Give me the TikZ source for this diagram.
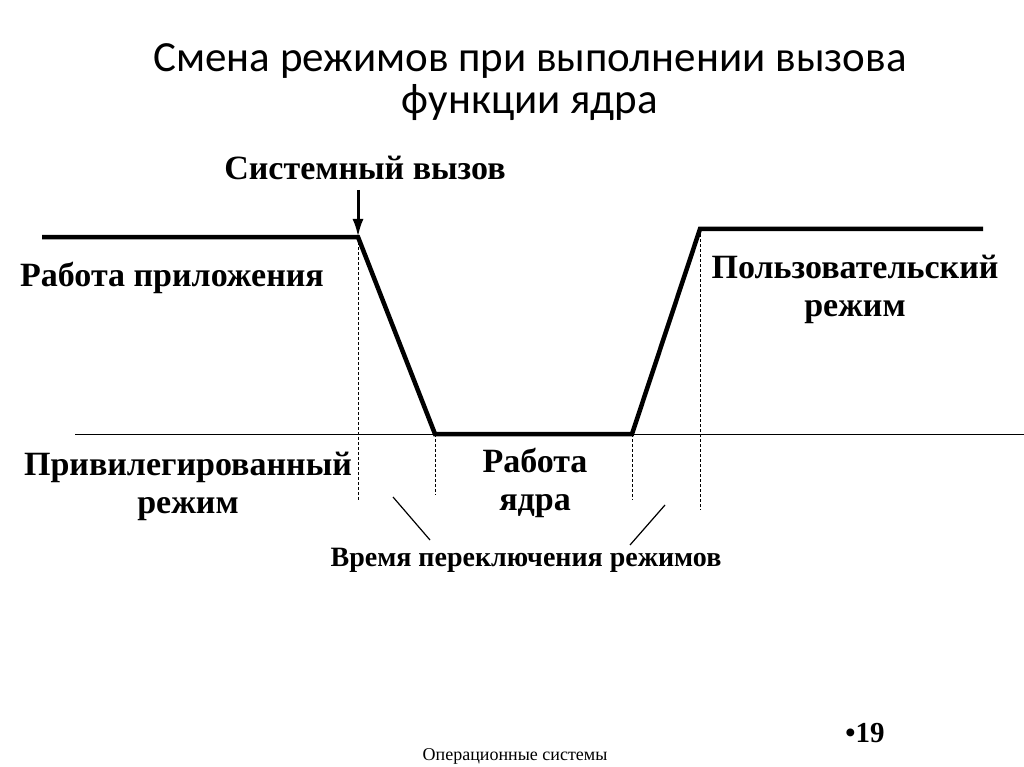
\documentclass[tikz,border=0pt]{standalone}
\usepackage{fontspec}
\usetikzlibrary{arrows.meta}
\setmainfont{Liberation Serif}
\newfontfamily\titlefont{Carlito}
\begin{document}
\begin{tikzpicture}[x=1pt,y=-1pt,
  lbl/.style={font=\bfseries\fontsize{34}{38}\selectfont,align=center,inner sep=0},
  dsh/.style={densely dashed,line width=1pt},
  thk/.style={line width=4.5pt,line join=miter}]
\useasboundingbox (0,0) rectangle (1024,767);
\node[font=\titlefont\fontsize{43}{42}\selectfont,align=center] (title) at (530,82) {Смена режимов при выполнении вызова\\функции ядра};
\coordinate (a0) at (42,237);\coordinate (a1) at (358,237);
\coordinate (a2) at (435,434);\coordinate (a3) at (632,434);
\coordinate (a4) at (700,229);\coordinate (a5) at (983,229);
\draw[thk] (a0)--(a1)--(a2)--(a3)--(a4)--(a5);
\draw[line width=1pt] (75,434)--(1024,434);
\draw[dsh] (a1)--(358,500);
\draw[dsh] (a2)--(435,495);
\draw[dsh] (a3)--(632,500);
\draw[dsh] (a4)--(700,510);
\node[lbl] (sys) at (365,168) {Системный вызов};
\coordinate (ar) at (358,190);
\draw[line width=3pt,-{Latex[length=18pt,width=11pt]}] (ar)--(a1);
\node[lbl] (app) at (172,278) {Работа приложения};
\node[lbl] (user) at (855,289) {Пользовательский\\режим};
\node[lbl] (priv) at (188,486) {Привилегированный\\режим};
\node[lbl] (kern) at (535,483) {Работа\\ядра};
\node[lbl,font=\bfseries\fontsize{28}{32}\selectfont] (sw) at (526,560) {Время переключения режимов};
\draw[line width=1.2pt] (393,497)--(430,540);
\draw[line width=1.2pt] (665,505)--(630,545);
\node[font=\bfseries\fontsize{29}{32}\selectfont] (pg) at (865,733) {•19};
\node[font=\fontsize{18}{20}\selectfont] (ft) at (515,756) {Операционные системы};
\end{tikzpicture}
\end{document}
